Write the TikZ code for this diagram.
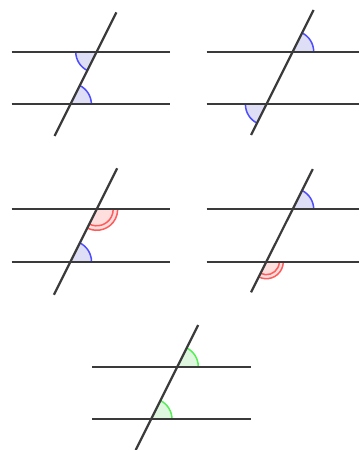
\documentclass[tikz,border=0pt]{standalone}
\usetikzlibrary{calc}
\definecolor{lineg}{HTML}{3A3A3A}
\definecolor{bl}{HTML}{4D4DFF}
\definecolor{blf}{HTML}{DEDEF7}
\definecolor{rd}{HTML}{FF5C5C}
\definecolor{rdf}{HTML}{FFDEDE}
\definecolor{gr}{HTML}{55EE55}
\definecolor{grf}{HTML}{DEF7DE}
\tikzset{
  parline/.style={draw=lineg, line width=2.2pt},
  transline/.style={draw=lineg, line width=2.2pt},
  arcline/.style={line width=1.5pt},
}
% angle marker: #1 point, #2 start, #3 end, #4 radius, #5 line col, #6 fill col
\newcommand{\angmark}[6]{%
  \fill[#6] (#1) -- ++(#2:#4) arc[start angle=#2, end angle=#3, radius=#4] -- cycle;
  \draw[arcline, #5] ($(#1)+(#2:#4)$) arc[start angle=#2, end angle=#3, radius=#4];
}
\newcommand{\angmarkii}[7]{%
  \fill[#7] (#1) -- ++(#2:#4) arc[start angle=#2, end angle=#3, radius=#4] -- cycle;
  \draw[arcline, #6] ($(#1)+(#2:#4)$) arc[start angle=#2, end angle=#3, radius=#4];
  \draw[arcline, #6] ($(#1)+(#2:#5)$) arc[start angle=#2, end angle=#3, radius=#5];
}
\begin{document}
\begin{tikzpicture}[x=1pt,y=1pt]
\useasboundingbox (0,0) rectangle (359,450);
\def\ta{63.43}
% ---------- Panel 1 ----------
\coordinate (T1) at (96.7,398.3);
\coordinate (B1) at (70.4,345.7);
\angmark{T1}{180}{243.43}{21}{bl}{blf}
\angmark{B1}{0}{63.43}{21}{bl}{blf}
\draw[parline] (11.7,398.3) -- (170,398.3);
\draw[parline] (11.7,345.7) -- (170,345.7);
\draw[transline] ($(T1)+(\ta:44)$) -- ($(B1)+(243.43:35.4)$);
% ---------- Panel 2 ----------
\coordinate (T2) at (292.7,398.3);
\coordinate (B2) at (266.4,345.7);
\angmark{T2}{0}{63.43}{21}{bl}{blf}
\angmark{B2}{180}{243.43}{21}{bl}{blf}
\draw[parline] (206.7,398.3) -- (359,398.3);
\draw[parline] (206.7,345.7) -- (359,345.7);
\draw[transline] ($(T2)+(\ta:46.6)$) -- ($(B2)+(243.43:34.3)$);
% ---------- Panel 3 ----------
\coordinate (T3) at (96.7,240.7);
\coordinate (B3) at (70.5,188.3);
\angmarkii{T3}{243.43}{360}{21}{16.5}{rd}{rdf}
\angmark{B3}{0}{63.43}{21}{bl}{blf}
\draw[parline] (11.7,240.7) -- (170,240.7);
\draw[parline] (11.7,188.3) -- (170,188.3);
\draw[transline] ($(T3)+(\ta:45.8)$) -- ($(B3)+(243.43:37)$);
% ---------- Panel 4 ----------
\coordinate (T4) at (292.7,240.7);
\coordinate (B4) at (266.3,188.3);
\angmark{T4}{0}{63.43}{21}{bl}{blf}
\angmarkii{B4}{243.43}{360}{17}{13}{rd}{rdf}
\draw[parline] (206.7,240.7) -- (359,240.7);
\draw[parline] (206.7,188.3) -- (359,188.3);
\draw[transline] ($(T4)+(\ta:45)$) -- ($(B4)+(243.43:34.2)$);
% ---------- Panel 5 ----------
\coordinate (T5) at (177.3,83.3);
\coordinate (B5) at (151,30.7);
\angmark{T5}{0}{63.43}{21}{gr}{grf}
\angmark{B5}{0}{63.43}{21}{gr}{grf}
\draw[parline] (92.3,83.3) -- (251,83.3);
\draw[parline] (92.3,30.7) -- (251,30.7);
\draw[transline] ($(T5)+(\ta:46.6)$) -- ($(B5)+(243.43:34.3)$);
\end{tikzpicture}
\end{document}
